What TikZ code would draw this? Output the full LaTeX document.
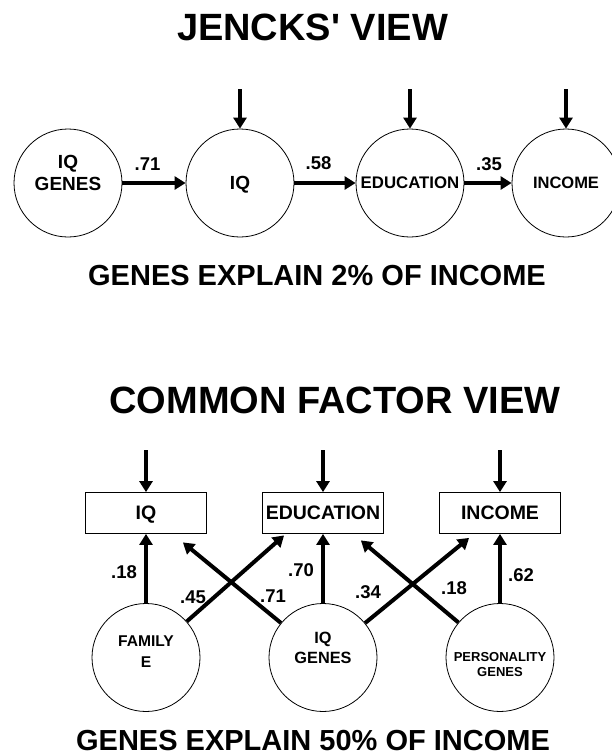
\documentclass[tikz,border=0pt]{standalone}
\usepackage{fontspec}
\setmainfont{Liberation Sans}
\usetikzlibrary{arrows.meta,positioning,calc}

\tikzset{
  hd/.style={inner sep=0pt, font=\bfseries\fontsize{38}{40}\selectfont},
  capt/.style={inner sep=0pt, text depth=0pt, font=\bfseries\fontsize{29}{31}\selectfont},
  coef/.style={inner sep=0pt, font=\bfseries\fontsize{18.5}{20}\selectfont},
  vt/.style 2 args={inner sep=0pt, align=center, font=\bfseries\fontsize{#1}{#2}\selectfont},
  var/.style={circle, draw, line width=0.8pt, minimum size=108pt, inner sep=0pt, text depth=0pt},
  obs/.style={rectangle, draw, line width=0.8pt, minimum width=121pt, minimum height=41pt,
    inner sep=0pt, text depth=0pt, font=\bfseries\fontsize{19.5}{21}\selectfont},
  arr/.style={line width=4pt, -{Triangle[length=11pt,width=13pt]}}
}

\begin{document}
\begin{tikzpicture}[x=1pt, y=-1pt]
  \useasboundingbox (0,0) rectangle (612,756);

  % Jencks' view
  \node[hd] (jTitle) at (312.5,27) {JENCKS\textquotesingle\ VIEW};

  \node[var, label={[vt={19}{22}, yshift=10.5pt]center:IQ\\GENES}] (jGen) at (68,183) {};
  \node[var, vt={19}{22}] (jIQ) at (240,183) {IQ};
  \node[var, vt={16.8}{19}] (jEdu) at (410,183) {EDUCATION};
  \node[var, vt={16.5}{19}] (jInc) at (566,183) {INCOME};

  % residual arrows
  \coordinate (uIQ) at (240,89);
  \coordinate (uEdu) at (410,89);
  \coordinate (uInc) at (566,89);
  \draw[arr] (uIQ) -- (jIQ);
  \draw[arr] (uEdu) -- (jEdu);
  \draw[arr] (uInc) -- (jInc);

  % causal chain
  \draw[arr] (jGen) -- (jIQ);
  \draw[arr] (jIQ) -- (jEdu);
  \draw[arr] (jEdu) -- (jInc);
  \node[coef] (jc1) at (147.5,164) {.71};
  \node[coef] (jc2) at (318.5,163) {.58};
  \node[coef] (jc3) at (489,164) {.35};

  \node[capt] (jSum) at (317,275.5) {GENES EXPLAIN 2\% OF INCOME};

  % Common factor view
  \node[hd] (cTitle) at (335,400.5) {COMMON FACTOR VIEW};

  \node[obs] (bIQ) at (146,513) {IQ};
  \node[obs] (bEdu) at (323,513) {EDUCATION};
  \node[obs] (bInc) at (500,513) {INCOME};

  \coordinate (vIQ) at (146,450);
  \coordinate (vEdu) at (323,450);
  \coordinate (vInc) at (500,450);
  \draw[arr] (vIQ) -- (bIQ);
  \draw[arr] (vEdu) -- (bEdu);
  \draw[arr] (vInc) -- (bInc);

  \node[var, label={[vt={15.6}{21}, yshift=6pt]center:FAMILY\\E}] (fE) at (146,657.5) {};
  \node[var, label={[vt={16.3}{20}, yshift=9.5pt]center:IQ\\GENES}] (gIQ) at (323,657.5) {};
  \node[var, label={[vt={13}{15}, yshift=-7.5pt]center:PERSONALITY\\GENES}] (gP) at (500,657.5) {};

  % paths up to the measures
  \draw[arr] (fE) -- (bIQ);
  \draw[arr] (gIQ) -- (bEdu);
  \draw[arr] (gP) -- (bInc);
  \draw[arr] (fE) -- ([shift={(22,1.5)}]bEdu.south west);
  \draw[arr] (gIQ) -- ([shift={(-24,8.5)}]bIQ.south east);
  \draw[arr] (gIQ) -- ([shift={(30,4)}]bInc.south west);
  \draw[arr] (gP) -- ([shift={(-23,6.5)}]bEdu.south east);

  \node[coef] (c1) at (124,572) {.18};
  \node[coef] (c2) at (193,597) {.45};
  \node[coef] (c3) at (273,596) {.71};
  \node[coef] (c4) at (301,570) {.70};
  \node[coef] (c5) at (368,592) {.34};
  \node[coef] (c6) at (454,588) {.18};
  \node[coef] (c7) at (521,575) {.62};

  \node[capt] (cSum) at (313,740) {GENES EXPLAIN 50\% OF INCOME};
\end{tikzpicture}
\end{document}
